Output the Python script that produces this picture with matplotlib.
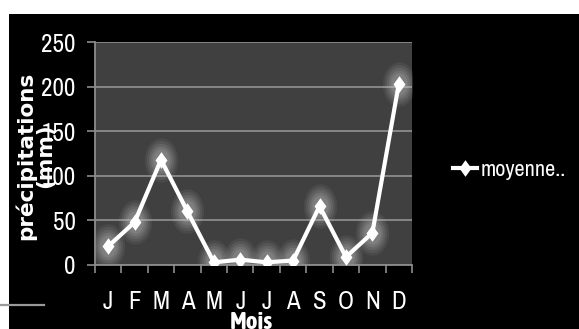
import matplotlib
matplotlib.use("Agg")
import matplotlib.pyplot as plt
from matplotlib.path import Path
from matplotlib.patches import Rectangle
from matplotlib.lines import Line2D
import numpy as np

months = ['J', 'F', 'M', 'A', 'M', 'J', 'J', 'A', 'S', 'O', 'N', 'D']
precip = [21, 48, 118, 60, 3, 6, 3, 5, 66, 9, 36, 203]
yticks = [0, 50, 100, 150, 200, 250]
series_name = 'moyenne..'
ylabel = 'précipitations\n(mm)'
xlabel = 'Mois'

NARROW = ['Archivo Narrow', 'Liberation Sans Narrow', 'Liberation Sans', 'DejaVu Sans']
NARROW_BOLD = ['Asap Condensed', 'Archivo Narrow', 'Liberation Sans', 'DejaVu Sans']

fig = plt.figure(figsize=(5.79, 3.29), dpi=100, facecolor='white')

# black background area
fig.patches.append(Rectangle((9/579, 0), 1 - 9/579, (329 - 14)/329,
                             transform=fig.transFigure, facecolor='black',
                             edgecolor='none', zorder=-2))
fig.add_artist(Line2D([0, 44/579], [24/329, 24/329], transform=fig.transFigure,
                      color='#9a9a9a', lw=1.6, zorder=-1))

ax = fig.add_axes([95/579, 64/329, 317/579, 223/329])
ax.set_facecolor('#404040')

x = np.arange(len(months))

diamond = Path([(0, 1), (0.72, 0), (0, -1), (-0.72, 0), (0, 1)],
               [Path.MOVETO, Path.LINETO, Path.LINETO, Path.LINETO, Path.CLOSEPOLY])
t = np.linspace(0, 2*np.pi, 40)
ell = Path(np.column_stack([0.75*np.cos(t), np.sin(t)]))

# soft glow around the markers
for ms, a in [(32, 0.08), (28, 0.10), (24, 0.12), (20, 0.14), (16, 0.16)]:
    ax.plot(x, precip, linestyle='none', marker=ell, ms=ms, color='#c8c8c8',
            alpha=a, markeredgewidth=0, zorder=2)
ax.plot(x, precip, color='white', lw=3.0, marker=diamond, ms=12,
        markeredgewidth=0, zorder=3, label=series_name, solid_joinstyle='miter')

ax.set_xlim(-0.5, 11.5)
ax.set_ylim(0, 250)
ax.set_yticks(yticks)
ax.set_yticklabels([str(v) for v in yticks])
ax.yaxis.grid(True, color='#8c8c8c', lw=1.3)
ax.set_axisbelow(True)

ax.set_xticks(x)
ax.set_xticklabels(months)
ax.set_xticks(np.arange(-0.5, 12, 1), minor=True)
ax.tick_params(axis='x', which='major', length=0, pad=18, colors='white',
               labelsize=18)
ax.tick_params(axis='x', which='minor', length=6, width=1.2, color='#8c8c8c')
ax.tick_params(axis='y', length=6, width=1.2, color='#8c8c8c', colors='white',
               labelsize=18, pad=8)
for lab in ax.get_xticklabels() + ax.get_yticklabels():
    lab.set_family(NARROW)
    lab.set_color('white')

for s in ['left', 'bottom']:
    ax.spines[s].set_color('#8c8c8c')
    ax.spines[s].set_linewidth(1.3)
for s in ['right', 'top']:
    ax.spines[s].set_visible(False)

fig.text(251/579, 1 - 311/329, xlabel, ha='center', va='top', color='white',
         fontsize=18, fontweight='bold', family=NARROW_BOLD)
fig.text(35/579, 1 - 156/329, ylabel, ha='center', va='center', rotation=90,
         color='white', fontsize=15.5, fontweight='bold', family=['DejaVu Sans'],
         linespacing=0.88, multialignment='center')

leg = fig.legend(loc='center left', bbox_to_anchor=(453/579, 1 - 170/329),
                 frameon=False, borderpad=0, borderaxespad=0, handlelength=1.1,
                 handletextpad=0.15, prop={'family': NARROW, 'size': 16})
for txt in leg.get_texts():
    txt.set_color('white')

fig.savefig('out.png', dpi=100, facecolor='white')
